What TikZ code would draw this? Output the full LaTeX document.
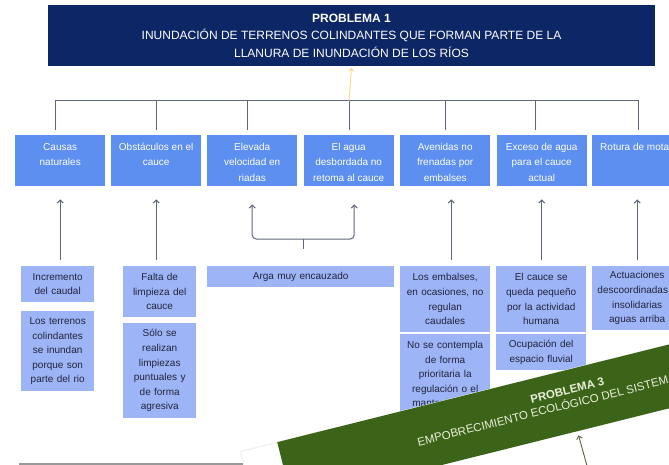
\documentclass[tikz,border=0pt]{standalone}
\usepackage{fontspec}
\setmainfont{Liberation Sans}
\usetikzlibrary{arrows.meta}
\definecolor{navy}{RGB}{12,38,102}
\definecolor{cblue}{RGB}{92,143,240}
\definecolor{lblue}{RGB}{157,181,246}
\definecolor{dtext}{RGB}{35,35,60}
\definecolor{lgray}{RGB}{95,102,120}
\definecolor{yel}{RGB}{245,215,110}
\definecolor{bgreen}{RGB}{60,100,24}
\definecolor{btext}{RGB}{232,238,218}
\definecolor{sarrc}{RGB}{95,95,70}
\newcommand{\ctext}[1]{\parbox[c][51pt][t]{88pt}{\centering\fontsize{10}{15.5}\selectfont\rule{0pt}{15pt}#1}}
\begin{document}
\begin{tikzpicture}[x=1pt,y=-1pt,
 topbox/.style={fill=navy,text=white,minimum width=607pt,minimum height=61pt,inner sep=0pt,align=center,font=\fontsize{12}{17.5}\selectfont},
 cbox/.style={fill=cblue,text=white,minimum width=90pt,inner sep=0pt,anchor=north west},
 lbox/.style={fill=lblue,text=dtext,inner sep=0pt,align=center,anchor=north west,font=\fontsize{10}{14.6}\selectfont},
 conn/.style={draw=lgray,line width=1pt},
 arr/.style={conn,-{Straight Barb[length=3pt,width=6pt]}},
 yarr/.style={draw=yel,line width=0.8pt,-{Straight Barb[length=2.5pt,width=5pt]}},
 slide/.style={fill=white,draw=black!6,line width=1.2pt,inner sep=0pt,anchor=north west},
 banner/.style={fill=bgreen,text=btext,inner sep=0pt,anchor=north west},
 sarr/.style={draw=sarrc,line width=0.9pt,-{Straight Barb[length=3pt,width=6pt]}}
]
\useasboundingbox (0,0) rectangle (669,465);
\clip (0,0) rectangle (669,465);
\fill[white] (0,0) rectangle (669,465);

% top problem
\node[topbox] (top) at (351.5,35.5) {\textbf{PROBLEMA 1}\\INUNDACIÓN DE TERRENOS COLINDANTES QUE FORMAN PARTE DE LA\\LLANURA DE INUNDACIÓN DE LOS RÍOS};

% second row
\node[cbox] (c1) at (15,135) {\ctext{Causas\\naturales}};
\node[cbox] (c2) at (111,135) {\ctext{Obstáculos en el\\cauce}};
\node[cbox] (c3) at (207,135) {\ctext{Elevada\\velocidad en\\riadas}};
\node[cbox] (c4) at (303.5,135) {\ctext{El agua\\desbordada no\\retoma al cauce}};
\node[cbox] (c5) at (400,135) {\ctext{Avenidas no\\frenadas por\\embalses}};
\node[cbox] (c6) at (496.5,135) {\ctext{Exceso de agua\\para el cauce\\actual}};
\node[cbox] (c7) at (592,135) {\ctext{Rotura de motas}};

% third row
\node[lbox,text width=73pt,minimum height=36pt] (a1) at (21,266) {Incremento\\del caudal};
\node[lbox,text width=73pt,minimum height=80pt] (a2) at (21,311) {Los terrenos\\colindantes\\se inundan\\porque son\\parte del rio};
\node[lbox,text width=73pt,minimum height=51pt] (b1) at (123,266) {Falta de\\limpieza del\\cauce};
\node[lbox,text width=73pt,minimum height=95pt] (b2) at (123,323) {Sólo se\\realizan\\limpiezas\\puntuales y\\de forma\\agresiva};
\node[lbox,text width=187pt,minimum height=21pt] (ar) at (207,266) {Arga muy encauzado};
\node[lbox,text width=90pt,minimum height=66pt] (d1) at (400,266) {Los embalses,\\en ocasiones, no\\regulan\\caudales};
\node[lbox,text width=90pt,minimum height=80pt] (d2) at (400,334) {No se contempla\\de forma\\prioritaria la\\regulación o el\\mantenimiento};
\node[lbox,text width=90pt,minimum height=66pt] (e1) at (496,266) {El cauce se\\queda pequeño\\por la actividad\\humana};
\node[lbox,text width=90pt,minimum height=36pt] (e2) at (496,334) {Ocupación del\\espacio fluvial};
\node[lbox,text width=90pt,minimum height=64pt] (f1) at (592,266) {Actuaciones\\descoordinadas e\\insolidarias\\aguas arriba};

% top bracket
\coordinate (hub) at (349,101);
\draw[conn] ([xshift=-5pt,yshift=5pt]c1.north) |- (hub);
\draw[conn] ([xshift=0.5pt,yshift=5pt]c2.north) |- (hub);
\draw[conn] ([xshift=-5pt,yshift=5pt]c3.north) |- (hub);
\draw[conn] ([xshift=0.5pt,yshift=5pt]c4.north) |- (hub);
\draw[conn] ([xshift=0.5pt,yshift=5pt]c5.north) |- (hub);
\draw[conn] ([xshift=-6pt,yshift=5pt]c6.north) |- (hub);
\draw[conn] ([xshift=1pt,yshift=5pt]c7.north) |- (hub);
\draw[yarr] (hub) -- ([yshift=-2pt]top.south);

% arrows from causes
\draw[arr] ([yshift=6pt]a1.north -| c1.south) -- ([yshift=-13pt]c1.south);
\draw[arr] ([yshift=6pt]b1.north -| c2.south) -- ([yshift=-13pt]c2.south);
\draw[arr] ([xshift=6pt,yshift=6pt]d1.north) -- ([xshift=6pt,yshift=-13pt]c5.south);
\draw[arr] ([yshift=6pt]e1.north -| c6.south) -- ([yshift=-13pt]c6.south);
\draw[arr] ([yshift=6pt]f1.north -| c7.south) -- ([yshift=-13pt]c7.south);

% brace for Arga
\coordinate (bm) at (303,239);
\draw[arr,rounded corners=4pt] (bm) -| ([yshift=-18pt]c3.south);
\draw[arr,rounded corners=4pt] (bm) -| ([xshift=5.5pt,yshift=-18pt]c4.south);
\draw[conn] (bm) -- ++(0,10);

% bottom grey line
\draw[draw=black!40,line width=2pt] (19,463.5) -- (243,463.5);

% overlapping slide of problem 3
\node[slide,rotate=14,minimum width=720pt,minimum height=320pt] (s3) at (240,451) {};
\node[banner,rotate=14] (p3) at (277,442) {\parbox[c][62pt][t]{588pt}{\centering\fontsize{11.5}{14}\selectfont\rule{0pt}{24pt}\textbf{PROBLEMA 3}\\EMPOBRECIMIENTO ECOLÓGICO DEL SISTEMA FLUVIAL}};
\begin{scope}[shift={(p3.south)},rotate=14]
\coordinate (s3a) at (1,42);
\end{scope}
\draw[sarr] (s3a) -- ([xshift=1pt,yshift=-4pt]p3.south);
\end{tikzpicture}
\end{document}
